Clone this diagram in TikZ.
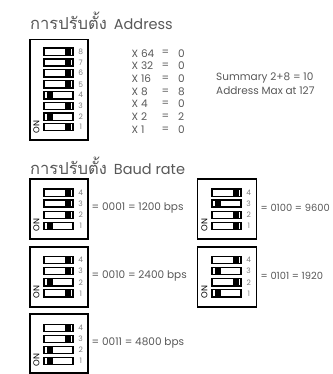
\documentclass[tikz,border=0pt]{standalone}
\usepackage{fontspec}
\setmainfont{Poppins}
\newfontfamily\thaifont[Script=Thai]{Loma}
\definecolor{inkgrey}{HTML}{585858}
\definecolor{numgrey}{HTML}{808080}
\tikzset{
  x=1pt, y=-1pt,
  dipbox/.style={draw=black, line width=1.5pt, fill=white},
  swbody/.style={fill=black},
  swslot/.style={fill=white},
  heading/.style={anchor=west, inner sep=0pt, text=inkgrey, font=\fontsize{14.5}{15}\selectfont},
  lbl/.style={anchor=west, inner sep=0pt, text=inkgrey, font=\fontsize{10.5}{10.5}\selectfont},
  lblsmall/.style={lbl, font=\fontsize{9.9}{10}\selectfont},
  num/.style={anchor=center, inner sep=0pt, text=numgrey, font=\fontsize{7.5}{7.5}\selectfont},
  onlbl/.style={anchor=center, inner sep=0pt, rotate=90, text=black, font=\fontsize{8.5}{8.5}\selectfont}
}
% #1 x, #2 y centre, #3 number, #4 = 1 when on
\newcommand{\dipsw}[4]{
  \fill[swbody] (#1,#2-4.4) rectangle (#1+31,#2+4.4);
  \ifnum#4=1
    \fill[swslot] (#1+2.3,#2-2.9) rectangle (#1+4.3,#2+2.9);
    \fill[swslot] (#1+10,#2-2.9) rectangle (#1+29.3,#2+2.9);
  \else
    \fill[swslot] (#1+2.3,#2-2.9) rectangle (#1+22.3,#2+2.9);
    \fill[swslot] (#1+27.7,#2-2.9) rectangle (#1+29,#2+2.9);
  \fi
  \node[num] at (#1+37.7,#2) {#3};
}
\begin{document}
\begin{tikzpicture}
\useasboundingbox (0,0) rectangle (332,374);

\node[heading] (addrtitle) at (30,21) {{\thaifont\fontsize{16.5}{16.5}\selectfont การปรับตั้ง}\hspace{7pt}Address};
\node[heading] (baudtitle) at (30,166) {{\thaifont\fontsize{16.5}{16.5}\selectfont การปรับตั้ง}\hspace{7pt}Baud rate};

% address switch
\draw[dipbox] (30,39.5) rectangle (88,140);
\dipsw{43}{51.7}{8}{0}
\dipsw{43}{62.5}{7}{0}
\dipsw{43}{73.2}{6}{0}
\dipsw{43}{84.3}{5}{0}
\dipsw{43}{95.2}{4}{1}
\dipsw{43}{106}{3}{0}
\dipsw{43}{116.7}{2}{1}
\dipsw{43}{127}{1}{0}
\node[onlbl] (addron) at (36.5,127) {ON};

\foreach \name/\val [count=\i from 0] in {X 64/0,X 32/0,X 16/0,X 8/8,X 4/0,X 2/2,X 1/0} {
  \node[lbl] at (131.5,53.3+12.7*\i) {\name};
  \node[lbl] at (161.5,53.3+12.7*\i) {=};
  \node[lbl] at (178,53.3+12.7*\i) {\val};
}
\node[lbl] (sumtxt) at (216,78.3) {Summary 2+8 = 10};
\node[lbl] (maxtxt) at (216,91) {Address Max at 127};

% baud switches
\draw[dipbox] (30,179) rectangle (88,239);
\dipsw{43}{192.7}{4}{0}
\dipsw{43}{203.5}{3}{0}
\dipsw{43}{215}{2}{0}
\dipsw{43}{226}{1}{1}
\node[onlbl] (on1) at (36.5,225) {ON};
\node[lbl] (baud1) at (91.5,208) {= 0001 = 1200 bps};

\draw[dipbox] (30,247) rectangle (88,307);
\dipsw{43}{260}{4}{0}
\dipsw{43}{271}{3}{0}
\dipsw{43}{282.3}{2}{1}
\dipsw{43}{293.3}{1}{0}
\node[onlbl] (on2) at (36.5,292) {ON};
\node[lbl] (baud2) at (91.5,276) {= 0010 = 2400 bps};

\draw[dipbox] (30,314) rectangle (88,373);
\dipsw{43}{328}{4}{0}
\dipsw{43}{339}{3}{0}
\dipsw{43}{350}{2}{1}
\dipsw{43}{361}{1}{1}
\node[onlbl] (on3) at (36.5,360) {ON};
\node[lbl] (baud3) at (91.5,343) {= 0011 = 4800 bps};

\draw[dipbox] (197.5,179) rectangle (256.5,239);
\dipsw{211}{192.7}{4}{0}
\dipsw{211}{203.5}{3}{1}
\dipsw{211}{215}{2}{0}
\dipsw{211}{226}{1}{0}
\node[onlbl] (on4) at (204.5,225) {ON};
\node[lblsmall] (baud4) at (260.5,208) {= 0100 = 9600};

\draw[dipbox] (197.5,247) rectangle (256.5,307);
\dipsw{211}{260}{4}{0}
\dipsw{211}{271}{3}{1}
\dipsw{211}{282.3}{2}{0}
\dipsw{211}{293.3}{1}{1}
\node[onlbl] (on5) at (204.5,292) {ON};
\node[lblsmall] (baud5) at (260.5,276) {= 0101 = 1920};
\end{tikzpicture}
\end{document}
